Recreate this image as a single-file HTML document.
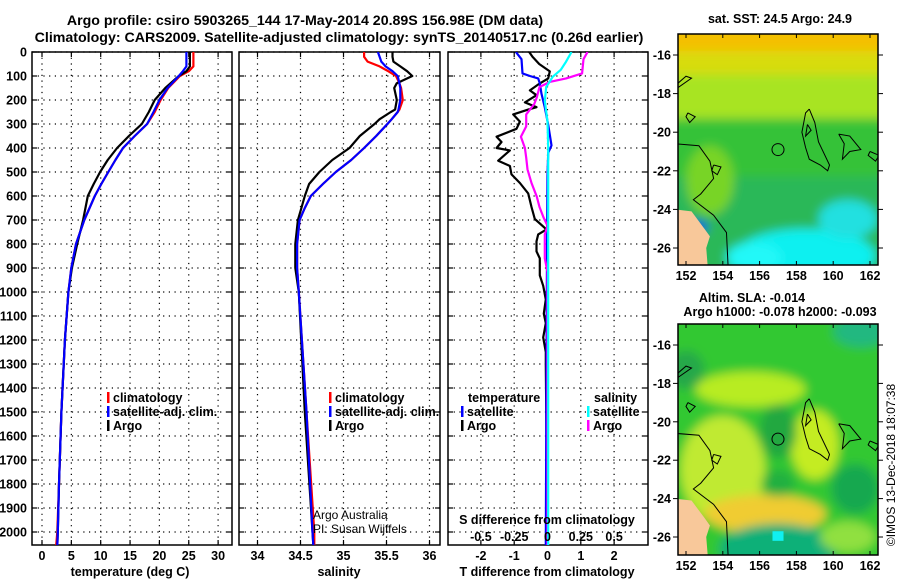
<!DOCTYPE html>
<html><head><meta charset="utf-8"><style>
body{margin:0;background:#fff}
svg text{font-family:"Liberation Sans",sans-serif}
.b{font-weight:bold;font-size:12.5px}
.n{font-size:12px}
</style></head><body>
<svg id="s" width="900" height="580" viewBox="0 0 900 580" xmlns="http://www.w3.org/2000/svg">
<defs>
<filter id="bl" x="-20%" y="-20%" width="140%" height="140%"><feGaussianBlur stdDeviation="5"/></filter>
<clipPath id="c1"><rect x="678" y="34" width="200" height="231"/></clipPath>
<clipPath id="c2"><rect x="678" y="324" width="200" height="231"/></clipPath>
<clipPath id="p1"><rect x="32" y="52" width="200" height="493"/></clipPath>
<clipPath id="p2"><rect x="239" y="52" width="201" height="493"/></clipPath>
<clipPath id="p3"><rect x="448" y="52" width="200" height="493"/></clipPath>
</defs>
<text x="305" y="25" text-anchor="middle" class="b" style="font-size:14.2px">Argo profile: csiro 5903265_144 17-May-2014 20.89S 156.98E (DM data)</text>
<text x="339" y="42" text-anchor="middle" class="b" style="font-size:14.2px">Climatology: CARS2009. Satellite-adjusted climatology: synTS_20140517.nc (0.26d earlier)</text>
<g id="g"></g>
</svg>
<script>
// ---- data ----
const tDepth = [0,60,80,100,150,200,250,300,350,400,450,500,550,600,700,800,900,1000,1200,1500,1800,2000,2060];
const tArgo  = [25.2,25.2,24.6,23.3,21.0,19.2,18.2,17.0,14.8,12.8,11.2,9.9,8.8,7.8,7.0,6.0,5.1,4.5,3.9,3.3,2.9,2.7,2.6];
const tClim  = [25.8,25.8,25.0,23.5,21.5,20.2,19.2,17.9,15.8,13.8,12.5,11.3,10.1,9.0,7.2,5.8,5.0,4.5,3.9,3.3,2.9,2.6,2.4];
const tSat   = [24.6,24.6,24.0,23.3,21.4,20.0,19.0,17.9,15.8,13.8,12.5,11.3,10.1,9.0,7.2,5.8,5.0,4.5,3.9,3.3,2.9,2.7,2.6];
const sDepth = [0,20,40,60,80,100,130,150,200,240,250,280,300,350,400,450,500,550,600,650,700,800,900,1000,1500,2000,2060];
const sArgo  = [35.57,35.57,35.58,35.66,35.74,35.80,35.62,35.59,35.62,35.60,35.55,35.42,35.36,35.19,35.07,34.87,34.72,34.60,34.55,34.51,34.47,34.44,34.44,34.48,34.55,34.64,34.65];
const sClim  = [35.24,35.24,35.28,35.42,35.52,35.61,35.65,35.67,35.69,35.65,35.63,35.56,35.51,35.38,35.24,35.09,34.91,34.76,34.62,34.55,34.49,34.46,34.46,34.48,34.57,34.66,34.66];
const sSat   = [35.40,35.42,35.44,35.49,35.57,35.63,35.65,35.66,35.66,35.64,35.63,35.56,35.51,35.38,35.24,35.09,34.91,34.76,34.62,34.55,34.49,34.46,34.46,34.48,34.57,34.64,34.65];
const dtArgoDepth = [0,20,50,81,110,131,160,180,210,230,240,260,290,320,353,375,400,410,453,475,510,546,589,646,696,739,760,789,831,860,931,974,1031,1090,1130,1189,1250,1303,1600,2060];
const dtArgo      = [-0.55,-0.45,-0.25,0.07,0.02,-0.23,-0.53,-0.33,-0.68,-0.33,-0.58,-1.03,-0.83,-0.93,-1.53,-1.38,-1.53,-1.13,-1.48,-1.13,-1.08,-0.83,-0.58,-0.48,-0.38,-0.03,-0.28,-0.33,-0.33,-0.23,-0.23,-0.13,-0.05,-0.11,-0.05,-0.13,-0.05,-0.05,-0.03,-0.03];
const dtSatDepth = [0,30,89,100,110,131,174,231,303,389,420,517,1000,2060];
const dtSat      = [-0.95,-0.78,-0.75,-0.53,-0.28,-0.23,-0.18,-0.08,0.02,0.12,0.02,0.0,-0.02,-0.05];
const dsArgoDepth = [0,30,89,110,124,146,189,217,260,310,353,400,440,489,546,603,646,689,724,760,860,917,2060];
const dsArgo      = [0.30,0.27,0.26,0.14,0.02,-0.06,-0.08,-0.10,-0.16,-0.16,-0.20,-0.17,-0.16,-0.15,-0.12,-0.08,-0.06,-0.03,0.0,-0.02,-0.02,0.0,0.0];
const dsSatDepth = [0,40,74,103,146,203,289,400,1000,2060];
const dsSat      = [0.18,0.14,0.10,0.04,-0.01,-0.02,0.0,0.005,0.005,0.005];
const tTicks = [0,5,10,15,20,25,30];
const sTicks = [34,34.5,35,35.5,36];
const sTickLabels = ["34","34.5","35","35.5","36"];
const dTTicks = [-2,-1,0,1,2];
const dSTicks = [-0.5,-0.25,0,0.25,0.5];
const dSTickLabels = ["-0.5","-0.25","0","0.25","0.5"];
const depthTicks = [0,100,200,300,400,500,600,700,800,900,1000,1100,1200,1300,1400,1500,1600,1700,1800,1900,2000];
const lonTicks = [152,154,156,158,160,162];
const latTicks = [-16,-18,-20,-22,-24,-26];

// ---- axes ----
const yD = d => 52 + d*0.24;
const xT = v => 42 + v*5.87;
const xS = v => 257.5 + (v-34)*86;
const xDT = v => 547.5 + v*33.3;
const xDS = v => 547.5 + v*133.2;
const mx = lon => 686 + (lon-152)*18.4;
const my1 = lat => 55 + (-16-lat)*19.3;
const my2 = lat => 345 + (-16-lat)*19.2;

const NS="http://www.w3.org/2000/svg";
const G=document.getElementById('g');
function el(t,a,p){const e=document.createElementNS(NS,t);for(const k in a)e.setAttribute(k,a[k]);(p||G).appendChild(e);return e;}
function txt(x,y,s,cls,anchor,parent){const e=el('text',{x:x,y:y,'text-anchor':anchor||'middle','class':cls||'b'},parent);e.textContent=s;return e;}

function panel(x0,x1,name){
  const r=el('rect',{x:x0,y:52,width:x1-x0,height:493,fill:'none',stroke:'#000','stroke-width':1.5});
  
  
  depthTicks.forEach(d=>{
    const l=el('line',{x1:x0,x2:x1,y1:yD(d),y2:yD(d),stroke:'#000','stroke-dasharray':'1.2,4.5','stroke-width':1.2});
    
    
    el('line',{x1:x0,x2:x0+5,y1:yD(d),y2:yD(d),stroke:'#000','stroke-width':1.2});
    el('line',{x1:x1-5,x2:x1,y1:yD(d),y2:yD(d),stroke:'#000','stroke-width':1.2});
  });
}
function vgrid(xs,f){xs.forEach(v=>{
  const l=el('line',{x1:f(v),x2:f(v),y1:52,y2:545,stroke:'#000','stroke-dasharray':'1.2,4.5','stroke-width':1.2});
  
  
  el('line',{x1:f(v),x2:f(v),y1:52,y2:57,stroke:'#000','stroke-width':1.2});
  el('line',{x1:f(v),x2:f(v),y1:540,y2:545,stroke:'#000','stroke-width':1.2});
});}
function line(ds,vs,f,color,w,clip,name){
  const pts=ds.map((d,i)=>f(vs[i]).toFixed(1)+','+yD(d).toFixed(1)).join(' ');
  const p=el('polyline',{points:pts,fill:'none',stroke:color,'stroke-width':w,'clip-path':'url(#'+clip+')','stroke-linejoin':'round'});
  
  
}
depthTicks.forEach(d=>{const t=txt(27,yD(d)+4.5,String(d),'b','end');
  
  });

// panel 1
panel(32,232,'temperature-panel'); vgrid(tTicks,xT);
line(tDepth,tClim,xT,'#f00',2.2,'p1','temperature-climatology-line');
line(tDepth,tArgo,xT,'#000',2.2,'p1','temperature-argo-line');
line(tDepth,tSat,xT,'#00f',2.2,'p1','temperature-satellite-line');
tTicks.forEach(v=>{const t=txt(xT(v),560,String(v));});
{const t=txt(130,576,'temperature (deg C)');}

// panel 2
panel(239,440,'salinity-panel'); vgrid(sTicks,xS);
line(sDepth,sClim,xS,'#f00',2.2,'p2','salinity-climatology-line');
line(sDepth,sArgo,xS,'#000',2.2,'p2','salinity-argo-line');
line(sDepth,sSat,xS,'#00f',2.2,'p2','salinity-satellite-line');
sTicks.forEach((v,i)=>{const t=txt(xS(v),560,sTickLabels[i]);});
{const t=txt(339,576,'salinity');}
{const t=txt(313,519,'Argo Australia','n','start');
 const u=txt(313,533,'PI: Susan Wijffels','n','start');}

// panel 3
panel(448,648,'difference-panel'); vgrid(dTTicks,xDT);
line(dtArgoDepth,dtArgo,xDT,'#000',2.2,'p3','t-diff-argo-line');
line(dtSatDepth,dtSat,xDT,'#00f',2.2,'p3','t-diff-satellite-line');
line(dsArgoDepth,dsArgo,xDS,'#f0f',2.2,'p3','s-diff-argo-line');
line(dsSatDepth,dsSat,xDS,'#0ff',2.2,'p3','s-diff-satellite-line');
dTTicks.forEach(v=>{const t=txt(xDT(v),560,String(v));});
dSTicks.forEach((v,i)=>{const t=txt(xDS(v),541,dSTickLabels[i]);});
{const t=txt(547,524,'S difference from climatology');
 const u=txt(547,576,'T difference from climatology');}

// legends
function leg(x,y,color,label,name){
  el('rect',{x:x,y:y-10,width:2.5,height:11,fill:color});
  const t=txt(x+6,y,label,'b','start');
  
  
}
leg(107,402,'#f00','climatology','legend-climatology');
leg(107,416,'#00f','satellite-adj. clim.','legend-satellite-adj');
leg(107,430,'#000','Argo','legend-argo');
leg(329,402,'#f00','climatology','legend-climatology-2');
leg(329,416,'#00f','satellite-adj. clim.','legend-satellite-adj-2');
leg(329,430,'#000','Argo','legend-argo-2');
{const t=txt(468,402,'temperature','b','start');
 const u=txt(594,402,'salinity','b','start');}
leg(461,416,'#00f','satellite','legend-t-satellite');
leg(461,430,'#000','Argo','legend-t-argo');
leg(587,416,'#0ff','satellite','legend-s-satellite');
leg(587,430,'#f0f','Argo','legend-s-argo');

// ---- maps ----
function ell(g,lon,lat,rx,ry,c,my){el('ellipse',{cx:mx(lon),cy:my(lat),rx:rx*18.4,ry:ry*19.3,fill:c},g);}
function rct(g,l0,l1,a0,a1,c,my){el('rect',{x:mx(l0),y:my(a0),width:mx(l1)-mx(l0),height:my(a1)-my(a0),fill:c},g);}
function contours(g,my){
  const polys=[
   [[151.4,-20.6],[152.7,-20.7],[153.3,-21.5],[153.5,-22.4],[152.8,-23.2],[152.4,-23.5],[153.5,-24.3],[154.2,-25.2],[154.3,-27.2]],
   [[151.4,-17.6],[152,-17.1],[152.3,-17.2],[151.4,-17.8]],
   [[158.7,-18.8],[159,-19.5],[159.2,-20.5],[159.8,-21.7],[159.7,-22],[159.3,-21.7],[158.7,-21.4],[158.5,-20.8],[158.3,-20],[158.5,-19],[158.7,-18.8]],
   [[160.3,-20.1],[160.9,-20.2],[161.5,-20.9],[160.9,-21.0],[160.5,-21.4],[160.6,-20.6],[160.3,-20.1]],
   [[162.0,-21.0],[162.5,-21.2],[162.3,-21.5],[161.9,-21.2],[162.0,-21.0]],
   [[152.1,-19.0],[152.5,-19.2],[152.2,-19.5],[152.0,-19.2],[152.1,-19.0]],
   [[153.5,-21.7],[153.9,-21.8],[153.7,-22.2],[153.4,-22.0],[153.5,-21.7]],
   [[158.6,-19.6],[158.8,-19.9],[158.5,-20.2],[158.6,-19.6]]
  ];
  polys.forEach(p=>el('polyline',{points:p.map(q=>mx(q[0])+','+my(q[1])).join(' '),fill:'none',stroke:'#000','stroke-width':1},g));
  el('circle',{cx:mx(157),cy:my(-20.9),r:6,fill:'none',stroke:'#000','stroke-width':1},g);
  el('polygon',{points:[[151.4,-24],[152.3,-24.1],[153,-25],[153.3,-25.4],[153.1,-26],[153.2,-27.2],[151.4,-27.2]].map(q=>mx(q[0])+','+my(q[1])).join(' '),fill:'#f8c89a'},g);
}
function mapFrame(y0,my,name){
  const r=el('rect',{x:678,y:y0,width:200,height:231,fill:'none',stroke:'#000','stroke-width':1.5});
  
  
  lonTicks.forEach(l=>{el('line',{x1:mx(l),x2:mx(l),y1:y0,y2:y0+4,stroke:'#000'});el('line',{x1:mx(l),x2:mx(l),y1:y0+227,y2:y0+231,stroke:'#000'});
    const t=txt(mx(l),y0+246,String(l));});
  latTicks.forEach(a=>{el('line',{x1:673,x2:678,y1:my(a),y2:my(a),stroke:'#000'});el('line',{x1:878,x2:883,y1:my(a),y2:my(a),stroke:'#000'});
    const t=txt(671,my(a)+4.5,String(a),'b','end');});
}
// map 1 SST
{
 const g=el('g',{'clip-path':'url(#c1)'});
 
 
 const b=el('g',{filter:'url(#bl)'},g);
 rct(b,150,164,-14,-28,'#2cb858',my1);
 rct(b,150,164,-14,-19.3,'#a8e420',my1);
 rct(b,150,164,-14,-17,'#d8dc10',my1);
 rct(b,150,164,-14,-15.8,'#f4c000',my1);
 rct(b,150,164,-19.3,-22.3,'#34c238',my1);
 ell(b,153.3,-22.5,1.3,1.8,'#78d428',my1);
 ell(b,158.5,-26.4,3.8,1.4,'#10f0f0',my1);
 ell(b,155.7,-26.5,1.5,0.8,'#20f8f8',my1);
 ell(b,160.8,-24.5,1.6,1.0,'#20e0e0',my1);
 ell(b,152.6,-24.9,0.6,0.3,'#1030f0',my1);
 contours(g,my1);
 mapFrame(34,my1,'sst-map');
 const t=txt(780,23,'sat. SST: 24.5 Argo: 24.9');
}
// map 2 SLA
{
 const g=el('g',{'clip-path':'url(#c2)'});
 
 
 const b=el('g',{filter:'url(#bl)'},g);
 rct(b,150,164,-14,-28,'#30c830',my2);
 ell(b,155.5,-18.3,3.0,0.9,'#b8ec20',my2);
 ell(b,154,-22.5,2.3,2.8,'#c0ea30',my2);
 ell(b,159,-21.2,1.3,1.8,'#c4ec20',my2);
 ell(b,156.3,-24.8,3.3,1.0,'#f0cc30',my2);
 ell(b,157,-20.5,1.0,1.4,'#20a840',my2);
 ell(b,157,-23.2,0.9,0.7,'#20b040',my2);
 ell(b,157,-26.6,3.2,1.3,'#10b078',my2);
 ell(b,161.5,-15.3,1.5,0.8,'#20b880',my2);
 ell(b,152,-17.3,1.0,1.0,'#28a848',my2);
 ell(b,161.2,-23.5,1.3,1.3,'#18a850',my2);
 ell(b,160.8,-26,1.5,0.8,'#90e040',my2);
 rct(g,156.7,157.3,-25.7,-26.2,'#10f0f0',my2);
 contours(g,my2);
 mapFrame(324,my2,'sla-map');
 const t=txt(752,302,'Altim. SLA: -0.014');
 const u=txt(780,316,'Argo h1000: -0.078 h2000: -0.093');
}
{const t=el('text',{x:0,y:0,transform:'translate(895,465) rotate(-90)','text-anchor':'middle',style:'font-size:12px'});
 t.textContent='©IMOS 13-Dec-2018 18:07:38';
 
 }
</script>
</body></html>
